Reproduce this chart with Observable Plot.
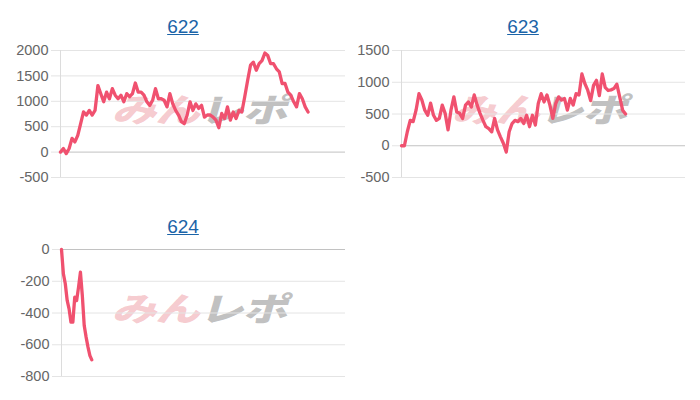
<!DOCTYPE html>
<html><head><meta charset="utf-8">
<script src="https://cdn.jsdelivr.net/npm/d3@7"></script>
<script src="https://cdn.jsdelivr.net/npm/@observablehq/plot@0.6"></script>
<style>
html,body{margin:0;padding:0;background:#fff}
#root{position:relative;width:700px;height:400px;overflow:hidden;font-family:"Liberation Sans",Arial,Helvetica,sans-serif}
.panel{position:absolute;width:350px;height:200px}
.title{position:absolute;top:15px;font-size:19px;line-height:24px;color:#1b64a8;text-decoration:underline;transform:translateX(-50%);white-space:nowrap}
.wm{position:absolute;transform:translate(-50%,-50%) skewX(-16deg) scale(1.12,0.82);font-family:"Noto Sans CJK JP",sans-serif;font-weight:900;font-size:40px;letter-spacing:-1px;white-space:nowrap;line-height:1}
.wm .a{color:rgba(232,120,132,0.40)}
.wm .b{color:rgba(140,140,140,0.55)}
.panel svg{position:absolute;left:0;top:0}
</style>
</head><body>
<div id="root"></div>
<script>
// ---- data ----
const machines = ["622", "623", "624"];
const values622 = [0,70,-30,70,270,200,330,560,790,730,820,730,820,1310,1150,990,1180,1050,1250,1120,1050,1120,990,1150,1090,1150,1360,1180,1180,1120,990,920,1020,1250,1050,1050,1020,890,1150,950,820,
  730,600,560,730,990,820,950,860,920,690,730,730,690,630,480,760,660,890,630,790,660,820,790,1090,1410,1710,1770,1610,1740,1800,1950,1900,1740,1740,1640,1580,1350,1350,1180,1120,990,890,1150,1050,890,790];
const values623 = [0,0,220,400,380,560,820,720,560,480,670,480,400,430,640,510,250,560,770,530,510,430,640,690,610,800,640,510,400,300,270,220,430,250,140,40,-100,220,350,400,380,
  430,350,480,300,480,325,665,820,690,800,640,430,665,770,720,745,560,745,640,820,800,1130,980,875,710,950,1030,790,1130,920,870,880,900,970,765,560,500];
const values624 = [0,-153,-216,-321,-374,-458,-458,-300,-321,-237,-143,-290,-479,-552,-615,-668,-695];
const yDomains = [[-500, 2000], [-500, 1500], [-800, 0]];
const yTicks = [[-500, 0, 500, 1000, 1500, 2000], [-500, 0, 500, 1000, 1500], [-800, -600, -400, -200, 0]];
const xLengths = [99, 97.6, 150];
const watermarkA = "みん";
const watermarkB = "レポ";

// ---- layout ----
const series = [values622, values623, values624];
const layout = [
  {left: 0, top: 0, ml: 60, mr: 5, mt: 50, mb: 23, tx: 183},
  {left: 350, top: 0, ml: 51, mr: 15, mt: 50, mb: 23, tx: 173},
  {left: 0, top: 200, ml: 61, mr: 5, mt: 49, mb: 24, tx: 183}
];

const root = document.getElementById("root");
machines.forEach((name, k) => {
  const L = layout[k];
  const panel = document.createElement("div");
  panel.className = "panel";
  panel.style.left = L.left + "px";
  panel.style.top = L.top + "px";

  const title = document.createElement("div");
  title.className = "title";
  title.style.left = L.tx + "px";
  title.textContent = name;
  panel.appendChild(title);

  const wm = document.createElement("div");
  wm.className = "wm";
  wm.style.left = (L.ml + (350 - L.ml - L.mr) / 2) + "px";
  wm.style.top = (L.mt + 58) + "px";
  wm.innerHTML = `<span class="a">${watermarkA}</span><span class="b">${watermarkB}</span>`;
  panel.appendChild(wm);

  const vals = series[k];
  const ticks = yTicks[k];
  const chart = Plot.plot({
    width: 350,
    height: 200,
    marginLeft: L.ml,
    marginRight: L.mr,
    marginTop: L.mt,
    marginBottom: L.mb,
    style: {background: "transparent", fontSize: "14.5px", fontFamily: "'Liberation Sans', Arial, sans-serif", color: "#666"},
    x: {domain: [0, xLengths[k]], axis: null},
    y: {domain: yDomains[k], axis: null},
    marks: [
      Plot.gridY(ticks.filter(t => t !== 0), {stroke: "#e4e4e4", strokeOpacity: 1}),
      Plot.axisY(ticks, {tickSize: 9, tickPadding: 3, stroke: "#e4e4e4", fill: "#666", tickFormat: d => String(d)}),
      Plot.ruleY([0], {stroke: "#c2c2c2", strokeWidth: 1}),
      Plot.ruleX([0], {stroke: "#dcdcdc"}),
      Plot.lineY(vals, {x: (d, i) => i, y: d => d, stroke: "#f0516f", strokeWidth: 3.3, strokeLinejoin: "round", strokeLinecap: "round"})
    ]
  });
  panel.appendChild(chart);
  root.appendChild(panel);
});
</script>
</body></html>
